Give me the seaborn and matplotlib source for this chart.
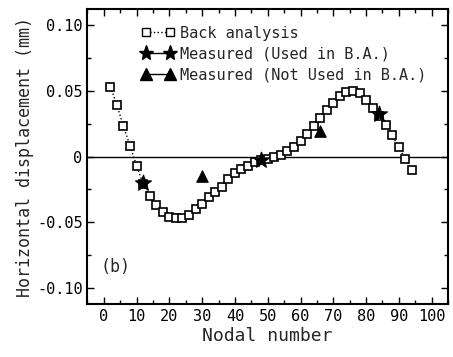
import numpy as np
import pandas as pd
import matplotlib
matplotlib.use("Agg")
import matplotlib.pyplot as plt
from matplotlib.lines import Line2D
from matplotlib.ticker import MultipleLocator
import seaborn as sns

# back analysis (every second node)
nodes = np.arange(2, 96, 2)
back_analysis = [0.053, 0.039, 0.023, 0.008, -0.007, -0.021, -0.030, -0.037,
                 -0.042, -0.0455, -0.047, -0.0465, -0.044, -0.040, -0.036, -0.031,
                 -0.027, -0.023, -0.017, -0.0125, -0.0095, -0.007, -0.0045, -0.003,
                 -0.0015, 0.0, 0.0015, 0.004, 0.0075, 0.0115, 0.017, 0.023,
                 0.029, 0.035, 0.041, 0.046, 0.049, 0.050, 0.048, 0.043,
                 0.037, 0.031, 0.024, 0.016, 0.007, -0.002, -0.010]

# measured points
used_nodes = [12, 48, 84]
used_vals = [-0.020, -0.003, 0.032]
notused_nodes = [30, 66]
notused_vals = [-0.015, 0.0195]

yticks = [0.10, 0.05, 0.0, -0.05, -0.10]
ytick_labels = ["0.10", "0.05", "0", "-0.05", "-0.10"]

sns.set_style("ticks")
plt.rcParams['font.family'] = ['DejaVu Sans Mono']

df = pd.DataFrame({"node": nodes, "disp": back_analysis})
used = pd.DataFrame({"node": used_nodes, "disp": used_vals})
notused = pd.DataFrame({"node": notused_nodes, "disp": notused_vals})

fig = plt.figure(figsize=(4.53, 3.57), dpi=100)
ax = fig.add_axes([0.193, 0.148, 0.796, 0.827])

ax.axhline(0, color='black', lw=1.0, zorder=1)

sns.lineplot(data=df, x="node", y="disp", ax=ax, color='black', lw=1.0,
             linestyle=':', marker='s', markersize=6, markerfacecolor='white',
             markeredgecolor='black', markeredgewidth=1.2, zorder=3)
sns.scatterplot(data=used, x="node", y="disp", ax=ax, marker='*', s=140,
                color='black', edgecolor='black', zorder=4)
sns.scatterplot(data=notused, x="node", y="disp", ax=ax, marker='^', s=70,
                color='black', edgecolor='black', zorder=4)

ax.set_xlim(-5, 105)
ax.set_ylim(-0.112, 0.112)
ax.set_xticks(range(0, 101, 10))
ax.set_yticks(yticks)
ax.set_yticklabels(ytick_labels)
ax.xaxis.set_minor_locator(MultipleLocator(5))
ax.yaxis.set_minor_locator(MultipleLocator(0.025))
ax.tick_params(which='both', direction='in', top=True, right=True,
               labelsize=11, width=1.0, colors='black')
ax.tick_params(which='major', length=5)
ax.tick_params(which='minor', length=3)
for s in ax.spines.values():
    s.set_linewidth(1.5)
    s.set_color('black')

ax.set_xlabel("Nodal number", fontsize=13, labelpad=2)
ax.set_ylabel("Horizontal displacement (mm)", fontsize=12, labelpad=2)

ax.text(0.035, 0.125, "(b)", transform=ax.transAxes, fontsize=12,
        va='center', ha='left')

handles = [
    Line2D([], [], color='black', lw=1.0, linestyle=':', marker='s',
           markersize=6, markerfacecolor='white', markeredgecolor='black'),
    Line2D([], [], color='black', lw=1.0, linestyle='-', marker='*',
           markersize=11),
    Line2D([], [], color='black', lw=1.0, linestyle='-', marker='^',
           markersize=8),
]
labels = ["Back analysis", "Measured (Used in B.A.)",
          "Measured (Not Used in B.A.)"]
ax.legend(handles, labels, loc='upper left', bbox_to_anchor=(0.12, 0.98),
          frameon=False, numpoints=2, fontsize=11, handlelength=2.2,
          handletextpad=0.3, labelspacing=0.4, borderpad=0.2)

fig.savefig("out.png", dpi=100)
